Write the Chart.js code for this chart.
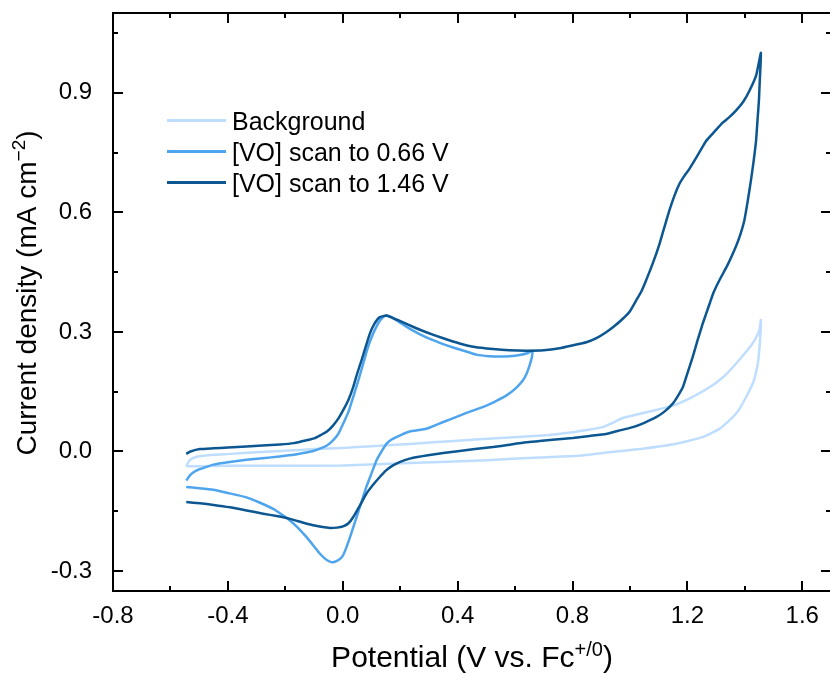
<!DOCTYPE html>
<html>
<head>
<meta charset="utf-8">
<script src="https://cdn.jsdelivr.net/npm/chart.js@4.4.0/dist/chart.umd.min.js"></script>
<style>
  html, body { margin: 0; padding: 0; background: #fff; overflow: hidden; }
  canvas { display: block; }
</style>
</head>
<body>
<canvas id="cv" width="834" height="674" style="width:834px;height:674px"></canvas>
<script>
// Cyclic voltammograms: potential (V vs. Fc+/0) and current density (mA cm^-2)
const seriesLabels = ['Background', '[VO] scan to 0.66 V', '[VO] scan to 1.46 V'];
const seriesColors = ['#bfdeff', '#4ea5ee', '#0c5792'];

const bgPotential = [
  -0.545, -0.535, -0.52, -0.50, -0.45, -0.39, -0.3, -0.2, -0.1, 0.0, 0.1, 0.233, 0.4, 0.55, 0.697,
  0.8, 0.86, 0.905, 0.94, 0.975, 1.02, 1.08, 1.149, 1.21, 1.277, 1.33, 1.369, 1.41, 1.435, 1.45, 1.456,
  1.452, 1.445, 1.43, 1.404, 1.375, 1.346, 1.31, 1.253, 1.15, 1.045, 0.95, 0.82, 0.685, 0.5, 0.233,
  0.0, -0.2, -0.4, -0.5, -0.545
];
const bgCurrent = [
  -0.037, -0.024, -0.016, -0.012, -0.008, -0.006, -0.002, 0.002, 0.006, 0.009, 0.013, 0.019, 0.027, 0.034, 0.040,
  0.048, 0.055, 0.061, 0.072, 0.084, 0.092, 0.102, 0.115, 0.134, 0.161, 0.19, 0.22, 0.255, 0.28, 0.303, 0.33,
  0.27, 0.22, 0.175, 0.136, 0.1, 0.078, 0.056, 0.036, 0.018, 0.007, 0.0, -0.011, -0.015, -0.022, -0.029,
  -0.035, -0.036, -0.036, -0.037, -0.037
];

const vo066Potential = [
  -0.545, -0.53, -0.51, -0.48, -0.45, -0.4, -0.335, -0.28, -0.22, -0.17, -0.138, -0.1, -0.08, -0.055,
  -0.034, -0.015, 0.001, 0.02, 0.036, 0.055, 0.071, 0.087, 0.1, 0.115, 0.129, 0.14, 0.152, 0.17, 0.198,
  0.24, 0.291, 0.34, 0.384, 0.43, 0.465, 0.51, 0.546, 0.58, 0.616, 0.645, 0.66,
  0.658, 0.65, 0.64, 0.627, 0.6, 0.569, 0.535, 0.5, 0.45, 0.407, 0.35, 0.291, 0.233, 0.198, 0.17, 0.152,
  0.135, 0.117, 0.1, 0.082, 0.065, 0.048, 0.03, 0.013, 0.0, -0.016, -0.03, -0.043, -0.06, -0.08, -0.1,
  -0.126, -0.155, -0.184, -0.215, -0.242, -0.29, -0.335, -0.4, -0.451, -0.5, -0.545
];
const vo066Current = [
  -0.073, -0.058, -0.048, -0.04, -0.033, -0.027, -0.021, -0.017, -0.0125, -0.008, -0.004, 0.002, 0.007, 0.015,
  0.028, 0.045, 0.069, 0.1, 0.136, 0.18, 0.22, 0.26, 0.286, 0.31, 0.328, 0.337, 0.341, 0.337, 0.324,
  0.305, 0.286, 0.272, 0.261, 0.251, 0.243, 0.239, 0.238, 0.239, 0.242, 0.247, 0.252,
  0.235, 0.215, 0.195, 0.178, 0.157, 0.14, 0.127, 0.115, 0.102, 0.09, 0.074, 0.057, 0.05, 0.04, 0.03, 0.019,
  0.0, -0.023, -0.055, -0.089, -0.127, -0.165, -0.205, -0.24, -0.262, -0.273, -0.277, -0.277, -0.27, -0.256, -0.238,
  -0.215, -0.192, -0.173, -0.157, -0.144, -0.128, -0.115, -0.104, -0.096, -0.092, -0.089
];

const vo146Potential = [
  -0.545, -0.53, -0.497, -0.45, -0.4, -0.335, -0.28, -0.219, -0.17, -0.126, -0.1, -0.08, -0.055, -0.034,
  -0.015, 0.001, 0.02, 0.036, 0.05, 0.065, 0.08, 0.094, 0.11, 0.129, 0.152, 0.18, 0.21, 0.25, 0.291,
  0.35, 0.407, 0.46, 0.523, 0.58, 0.639, 0.7, 0.755, 0.8, 0.848, 0.885, 0.917, 0.945, 0.975, 1.0,
  1.021, 1.04, 1.056, 1.08, 1.103, 1.12, 1.137, 1.155, 1.172, 1.19, 1.207, 1.235, 1.265, 1.295, 1.323,
  1.345, 1.369, 1.395, 1.416, 1.44, 1.456,
  1.452, 1.449, 1.445, 1.439, 1.43, 1.421, 1.41, 1.398, 1.38, 1.363, 1.34, 1.311, 1.29, 1.277, 1.265,
  1.253, 1.235, 1.218, 1.2, 1.184, 1.165, 1.149, 1.12, 1.091, 1.05, 1.01, 0.96, 0.917, 0.86, 0.801,
  0.74, 0.685, 0.639, 0.58, 0.523, 0.46, 0.407, 0.35, 0.291, 0.26, 0.233, 0.2, 0.175, 0.15, 0.129,
  0.105, 0.082, 0.06, 0.036, 0.02, 0.001, -0.02, -0.045, -0.075, -0.103, -0.14, -0.184, -0.23, -0.277,
  -0.335, -0.393, -0.45, -0.497, -0.545
];
const vo146Current = [
  -0.006, 0.0, 0.006, 0.008, 0.01, 0.0125, 0.015, 0.0175, 0.021, 0.028, 0.033, 0.04, 0.05, 0.065,
  0.083, 0.103, 0.13, 0.161, 0.195, 0.228, 0.263, 0.295, 0.32, 0.337, 0.341, 0.333, 0.324, 0.311, 0.299,
  0.284, 0.271, 0.262, 0.257, 0.254, 0.253, 0.254, 0.259, 0.266, 0.274, 0.285, 0.299, 0.314, 0.333, 0.352,
  0.378, 0.402, 0.429, 0.473, 0.521, 0.563, 0.604, 0.642, 0.671, 0.692, 0.709, 0.742, 0.779, 0.803, 0.825,
  0.838, 0.855, 0.878, 0.905, 0.945, 1.0,
  0.93, 0.88, 0.84, 0.779, 0.725, 0.679, 0.628, 0.579, 0.535, 0.504, 0.468, 0.429, 0.397, 0.37, 0.345,
  0.32, 0.278, 0.236, 0.196, 0.161, 0.137, 0.12, 0.1, 0.086, 0.072, 0.061, 0.052, 0.044, 0.039, 0.034,
  0.03, 0.026, 0.023, 0.017, 0.011, 0.006, 0.001, -0.004, -0.01, -0.014, -0.018, -0.026, -0.035, -0.048, -0.064,
  -0.084, -0.106, -0.135, -0.165, -0.18, -0.188, -0.191, -0.192, -0.189, -0.185, -0.178, -0.169, -0.162, -0.156,
  -0.148, -0.14, -0.134, -0.13, -0.127
];

// Axis ticks
const xMajorTicks = [-0.8, -0.4, 0.0, 0.4, 0.8, 1.2, 1.6];
const xMinorTicks = [-0.6, -0.2, 0.2, 0.6, 1.0, 1.4];
const yMajorTicks = [-0.3, 0.0, 0.3, 0.6, 0.9];
const yMinorTicks = [-0.15, 0.15, 0.45, 0.75, 1.05];

const FONT = '"Liberation Sans", Arial, Helvetica, sans-serif';

function toPoints(xs, ys) {
  return xs.map((x, i) => ({ x: x, y: ys[i] }));
}

function drawRich(ctx, parts, mainSize, supSize, raise) {
  // measure then draw text runs left to right, centred on the origin
  let total = 0;
  parts.forEach(p => {
    ctx.font = (p.sup ? supSize : mainSize) + 'px ' + FONT;
    p.w = ctx.measureText(p.t).width;
    total += p.w;
  });
  let x = -total / 2;
  parts.forEach(p => {
    ctx.font = (p.sup ? supSize : mainSize) + 'px ' + FONT;
    ctx.fillText(p.t, x, p.sup ? -raise : 0);
    x += p.w;
  });
}

const framePlugin = {
  id: 'frame',
  afterDraw(chart) {
    const ctx = chart.ctx;
    const a = chart.chartArea;
    const xs = chart.scales.x, ys = chart.scales.y;
    ctx.save();
    ctx.strokeStyle = '#000';
    ctx.lineWidth = 2;
    ctx.strokeRect(a.left, a.top, a.right - a.left, a.bottom - a.top);

    const majorLen = 10, minorLen = 5;
    ctx.beginPath();
    xMajorTicks.concat(xMinorTicks).forEach(v => {
      const len = xMajorTicks.includes(v) ? majorLen : minorLen;
      const px = Math.round(xs.getPixelForValue(v));
      ctx.moveTo(px, a.bottom); ctx.lineTo(px, a.bottom - len);
      ctx.moveTo(px, a.top); ctx.lineTo(px, a.top + len);
    });
    yMajorTicks.concat(yMinorTicks).forEach(v => {
      const len = yMajorTicks.includes(v) ? majorLen : minorLen;
      const py = Math.round(ys.getPixelForValue(v));
      ctx.moveTo(a.left, py); ctx.lineTo(a.left + len, py);
      ctx.moveTo(a.right, py); ctx.lineTo(a.right - len, py);
    });
    ctx.stroke();

    // axis titles
    ctx.fillStyle = '#000';
    ctx.textBaseline = 'alphabetic';
    ctx.textAlign = 'left';
    ctx.save();
    ctx.translate((a.left + a.right) / 2, 667);
    drawRich(ctx, [{ t: 'Potential (V vs. Fc' }, { t: '+/0', sup: true }, { t: ')' }], 30, 20, 11);
    ctx.restore();

    ctx.save();
    ctx.translate(36, 293);
    ctx.rotate(-Math.PI / 2);
    drawRich(ctx, [{ t: 'Current density (mA cm' }, { t: '\u22122', sup: true }, { t: ')' }], 28, 19, 11);
    ctx.restore();

    // legend
    ctx.font = '25px ' + FONT;
    ctx.lineWidth = 3;
    chart.data.datasets.forEach((ds, i) => {
      const base = 129.5 + i * 31;
      ctx.strokeStyle = ds.borderColor;
      ctx.beginPath();
      ctx.moveTo(167, base - 9);
      ctx.lineTo(226, base - 9);
      ctx.stroke();
      ctx.fillText(ds.label, 232, base);
    });
    ctx.restore();
  }
};

new Chart(document.getElementById('cv'), {
  type: 'scatter',
  data: {
    datasets: [
      { label: seriesLabels[0], data: toPoints(bgPotential, bgCurrent), borderColor: seriesColors[0], order: 3 },
      { label: seriesLabels[1], data: toPoints(vo066Potential, vo066Current), borderColor: seriesColors[1], order: 2 },
      { label: seriesLabels[2], data: toPoints(vo146Potential, vo146Current), borderColor: seriesColors[2], order: 1 }
    ].map(d => Object.assign(d, {
      showLine: true, pointRadius: 0, borderWidth: 2.5, tension: 0.15, fill: false,
      backgroundColor: d.borderColor
    }))
  },
  options: {
    responsive: false,
    animation: false,
    devicePixelRatio: 1,
    layout: { padding: { top: 13, right: 3, left: 0, bottom: 0 } },
    plugins: { legend: { display: false }, tooltip: { enabled: false } },
    scales: {
      x: {
        type: 'linear', min: -0.8, max: 1.7,
        grid: { display: false }, border: { display: false },
        ticks: {
          color: '#000', font: { family: FONT, size: 24 }, padding: 3,
          autoSkip: false, maxRotation: 0,
          callback: v => Number(v).toFixed(1)
        },
        afterBuildTicks: s => { s.ticks = xMajorTicks.map(v => ({ value: v })); },
        afterFit: s => { s.height = 83; s.paddingLeft = 0; s.paddingRight = 0; }
      },
      y: {
        type: 'linear', min: -0.35, max: 1.1,
        grid: { display: false }, border: { display: false },
        ticks: {
          color: '#000', font: { family: FONT, size: 24 }, padding: 13,
          autoSkip: false,
          callback: v => Number(v).toFixed(1)
        },
        afterBuildTicks: s => { s.ticks = yMajorTicks.map(v => ({ value: v })); },
        afterFit: s => { s.width = 113; s.paddingTop = 0; s.paddingBottom = 0; }
      }
    }
  },
  plugins: [framePlugin]
});
</script>
</body>
</html>
